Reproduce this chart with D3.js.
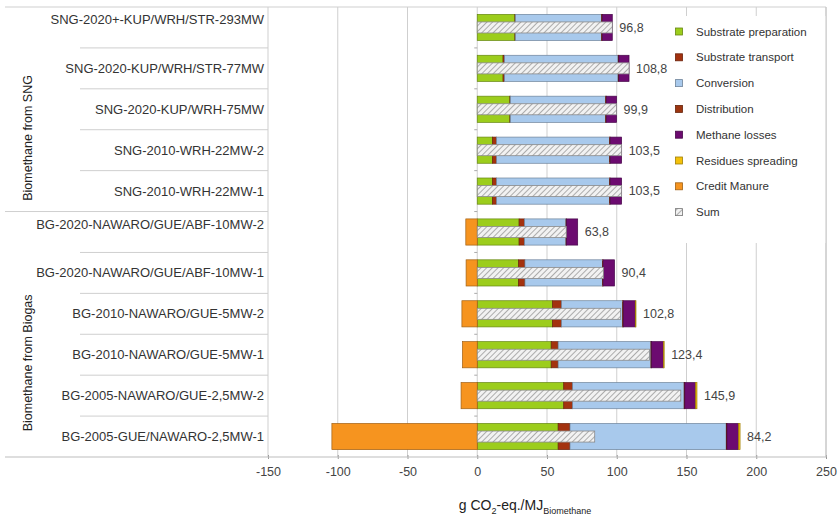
<!DOCTYPE html>
<html>
<head>
<meta charset="utf-8">
<script src="https://cdn.jsdelivr.net/npm/d3@7/dist/d3.min.js"></script>
<style>
  html, body { margin: 0; padding: 0; background: #fff; }
  svg { display: block; font-family: "Liberation Sans", Arial, sans-serif; }
</style>
</head>
<body>
<svg id="chart" width="840" height="521"></svg>
<script>
// Plant configurations, top to bottom
const categories = [
  "SNG-2020+-KUP/WRH/STR-293MW",
  "SNG-2020-KUP/WRH/STR-77MW",
  "SNG-2020-KUP/WRH-75MW",
  "SNG-2010-WRH-22MW-2",
  "SNG-2010-WRH-22MW-1",
  "BG-2020-NAWARO/GUE/ABF-10MW-2",
  "BG-2020-NAWARO/GUE/ABF-10MW-1",
  "BG-2010-NAWARO/GUE-5MW-2",
  "BG-2010-NAWARO/GUE-5MW-1",
  "BG-2005-NAWARO/GUE-2,5MW-2",
  "BG-2005-GUE/NAWARO-2,5MW-1"
];
const groups = ["Biomethane from SNG", "Biomethane from Biogas"];
const groupOf = [0, 0, 0, 0, 0, 1, 1, 1, 1, 1, 1];

// Emission contributions in g CO2-eq./MJ (Biomethane)
const substratePreparation = [27.0, 18.5, 23.4, 11.0, 11.0, 30.0, 29.6, 54.0, 53.0, 62.0, 58.0];
const substrateTransport   = [0.3, 1.0, 0.3, 2.8, 2.8, 3.8, 4.6, 6.4, 5.0, 6.3, 8.5];
const conversion           = [61.8, 81.5, 68.3, 81.0, 81.0, 29.8, 55.6, 43.8, 66.5, 80.0, 112.0];
const distribution         = [0.5, 0.5, 0.5, 0.5, 0.5, 0.4, 0.4, 0.5, 0.5, 0.5, 0.5];
const methaneLosses        = [7.2, 7.3, 7.4, 8.2, 8.2, 8.0, 8.2, 8.6, 8.4, 7.7, 8.3];
const residuesSpreading    = [0, 0, 0, 0, 0, 0, 0, 0.5, 0.6, 1.0, 1.1];
const creditManure         = [0, 0, 0, 0, 0, -8.2, -8.0, -11.0, -10.6, -11.6, -104.2];
const sumLabels            = ["96,8", "108,8", "99,9", "103,5", "103,5", "63,8", "90,4", "102,8", "123,4", "145,9", "84,2"];

const xTicks = [-150, -100, -50, 0, 50, 100, 150, 200, 250];

const seriesNames = ["Substrate preparation", "Substrate transport", "Conversion", "Distribution",
                     "Methane losses", "Residues spreading", "Credit Manure", "Sum"];
const seriesValues = [substratePreparation, substrateTransport, conversion, distribution,
                      methaneLosses, residuesSpreading, creditManure];
const colors = ["#9ccd1c", "#a3320f", "#a8c9ec", "#9c3510", "#6c0b70", "#f4c10a", "#f6941f"];

const svg = d3.select("#chart");

const x = d3.scaleLinear().domain([-150, 250]).range([268, 826]);
const y = d3.scaleBand().domain(categories).range([7, 457]).padding(0);
const step = y.step();
const barH = step * 0.64;
const sumH = step * 0.27;

// hatch pattern for the sum bars
const defs = svg.append("defs");
const pat = defs.append("pattern")
  .attr("id", "hatch").attr("patternUnits", "userSpaceOnUse")
  .attr("width", 4).attr("height", 4)
  .attr("patternTransform", "rotate(45)");
pat.append("rect").attr("width", 4).attr("height", 4).attr("fill", "#f2f2f2");
pat.append("line").attr("x1", 0).attr("y1", 0).attr("x2", 0).attr("y2", 4)
  .attr("stroke", "#9a9a9a").attr("stroke-width", 1.6);

// vertical gridlines
svg.append("g").selectAll("line").data(xTicks).join("line")
  .attr("x1", d => x(d)).attr("x2", d => x(d))
  .attr("y1", 7).attr("y2", 457)
  .attr("stroke", "#cfcfcf").attr("stroke-width", 1);

// top frame line
svg.append("line").attr("x1", 5).attr("x2", x(250)).attr("y1", 7).attr("y2", 7)
  .attr("stroke", "#cfcfcf");

// x axis
const xAxis = d3.axisBottom(x).tickValues(xTicks).tickSize(4).tickPadding(6)
  .tickFormat(d => String(d));
const gx = svg.append("g").attr("transform", "translate(0,457)").call(xAxis);
gx.select(".domain").remove();
gx.selectAll(".tick line").attr("stroke", "#999").attr("y1", -2).attr("y2", 2);
gx.selectAll(".tick text").attr("fill", "#444").attr("font-size", 12.5)
  .attr("font-family", "Liberation Sans, Arial, sans-serif");
svg.append("line").attr("x1", 5).attr("x2", x(250)).attr("y1", 457).attr("y2", 457)
  .attr("stroke", "#bdbdbd");

// row separators in the label column
const rowEdges = categories.slice(1).map(c => y(c));
svg.append("g").selectAll("line").data(rowEdges).join("line")
  .attr("x1", (d, i) => groupOf[i] !== groupOf[i + 1] ? 5 : 80)
  .attr("x2", x(-150))
  .attr("y1", d => d).attr("y2", d => d)
  .attr("stroke", "#cfcfcf");

// small ticks on the zero line
svg.append("g").selectAll("line").data(rowEdges).join("line")
  .attr("x1", x(0) - 3).attr("x2", x(0))
  .attr("y1", d => d).attr("y2", d => d)
  .attr("stroke", "#aaa");

// stacked bars
const rows = categories.map((c, i) => {
  let acc = 0;
  const segs = [];
  for (let s = 0; s < 6; s++) {
    const v = seriesValues[s][i];
    segs.push({ s, x0: acc, x1: acc + v });
    acc += v;
  }
  segs.push({ s: 6, x0: creditManure[i], x1: 0 });
  const total = acc + creditManure[i];
  return { c, i, segs, end: acc, total };
});

const rowG = svg.append("g").selectAll("g").data(rows).join("g")
  .attr("transform", d => `translate(0,${y(d.c) + step / 2})`);

rowG.selectAll("rect.seg").data(d => d.segs.filter(s => s.x1 - s.x0 > 0)).join("rect")
  .attr("class", "seg")
  .attr("x", s => x(s.x0))
  .attr("width", s => x(s.x1) - x(s.x0))
  .attr("y", -barH / 2).attr("height", barH)
  .attr("fill", s => colors[s.s])
  .attr("stroke", s => d3.color(colors[s.s]).darker(1.2))
  .attr("stroke-width", 0.7);

rowG.append("rect")
  .attr("x", x(0))
  .attr("width", d => x(d.total) - x(0))
  .attr("y", -sumH / 2).attr("height", sumH)
  .attr("fill", "url(#hatch)")
  .attr("stroke", "#8a8a8a").attr("stroke-width", 0.8);

rowG.append("text")
  .attr("x", d => x(d.end) + 7)
  .attr("y", 0).attr("dy", "0.35em")
  .attr("font-size", 12.5).attr("fill", "#444")
  .text(d => sumLabels[d.i]);

// category labels
svg.append("g").selectAll("text").data(categories).join("text")
  .attr("x", 264)
  .attr("y", (c, i) => y(c) + step / 2 - ((i === 0 || groupOf[i] !== groupOf[i - 1]) ? 8 : 0))
  .attr("dy", "0.35em")
  .attr("text-anchor", "end")
  .attr("font-size", 13).attr("fill", "#333")
  .text(c => c);

// group labels
groups.forEach((g, gi) => {
  const members = categories.filter((c, i) => groupOf[i] === gi);
  const y0 = y(members[0]);
  const y1 = y(members[members.length - 1]) + step;
  svg.append("text")
    .attr("transform", `translate(28,${(y0 + y1) / 2 + step * 0.7}) rotate(-90)`)
    .attr("dy", "0.35em")
    .attr("text-anchor", "middle")
    .attr("font-size", 12.5).attr("fill", "#222")
    .text(g);
});

// legend
const legend = svg.append("g");
legend.append("rect").attr("x", 671).attr("y", 16).attr("width", x(250) - 671).attr("height", 227)
  .attr("fill", "#fff");
svg.append("line").attr("x1", x(250)).attr("x2", x(250)).attr("y1", 7).attr("y2", 457)
  .attr("stroke", "#c4c4c4");
const legItems = legend.selectAll("g").data(seriesNames).join("g")
  .attr("transform", (d, i) => `translate(679,${31.5 + i * 25.8})`);
legItems.append("rect")
  .attr("x", -3.5).attr("y", -3.5).attr("width", 7).attr("height", 7)
  .attr("fill", (d, i) => i < 7 ? colors[i] : "url(#hatch)")
  .attr("stroke", (d, i) => i < 7 ? d3.color(colors[i]).darker(1.2) : "#777")
  .attr("stroke-width", 0.8);
legItems.append("text")
  .attr("x", 17).attr("dy", "0.35em")
  .attr("font-size", 11.5).attr("fill", "#333")
  .text(d => d);

// axis title
const title = svg.append("text")
  .attr("x", 525).attr("y", 510)
  .attr("text-anchor", "middle")
  .attr("font-size", 14).attr("fill", "#222");
title.append("tspan").text("g CO");
title.append("tspan").attr("font-size", 9).attr("dy", 4).text("2");
title.append("tspan").attr("dy", -4).text("-eq./MJ");
title.append("tspan").attr("font-size", 9).attr("dy", 4).text("Biomethane");
</script>
</body>
</html>
